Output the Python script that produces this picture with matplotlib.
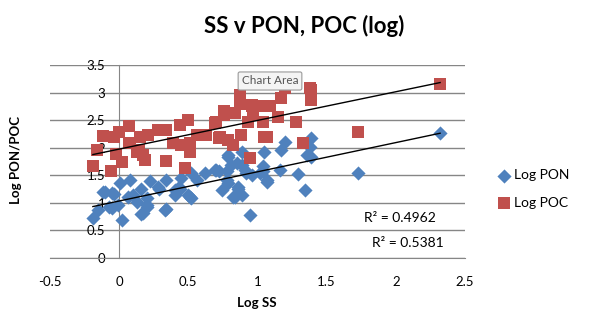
import numpy as np
import matplotlib.pyplot as plt

plt.rcParams['font.family'] = ['Lato', 'DejaVu Sans']

# log suspended solids vs log particulate organic nitrogen
pon_x = [-0.19, -0.15, -0.12, -0.05, -0.07, -0.01, 0.005, 0.02, 0.08, 0.065, 0.13, 0.16, 0.16, 0.20,
         0.22, 0.20, 0.28, 0.34, 0.34, 0.40, 0.43, 0.45, 0.50, 0.52, 0.56, 0.52, 0.62, 0.70, 0.74,
         0.78, 0.79, 0.81, 0.82, 0.86, 0.885, 0.885, 0.91, 0.945, 0.957, 1.05, 1.04, 1.07,
         2.32, 1.73, 1.39, 1.38, 1.355, 1.20, 1.17, 1.04, 1.07, 1.16, 1.29, 1.34, 1.39,
         0.79, 0.85, 0.72, 0.78, 0.69, 0.44, 0.51, 0.79, 0.86, 0.84, 0.92, 1.02, 0.885,
         -0.10, -0.04, -0.055, 0.10, 0.20, 0.17, 0.29, 0.33, 0.40]
pon_y = [0.72, 0.87, 1.20, 1.17, 0.93, 0.96, 1.36, 0.69, 1.42, 1.11, 1.02, 1.26, 0.79, 0.93,
         1.40, 1.08, 1.29, 1.42, 0.89, 1.14, 1.29, 1.45, 1.14, 1.54, 1.42, 1.08, 1.54, 1.60, 1.23,
         1.42, 1.87, 1.69, 1.11, 1.29, 1.14, 1.93, 1.60, 0.78, 1.51, 1.93, 1.57, 1.38,
         2.26, 1.54, 2.17, 2.02, 1.87, 2.11, 1.96, 1.66, 1.42, 1.60, 1.52, 1.23, 1.84,
         1.84, 1.72, 1.57, 1.57, 1.60, 1.26, 1.11, 1.36, 1.26, 1.11, 1.54, 1.54, 1.69,
         1.19, 1.16, 0.90, 1.14, 0.96, 0.81, 1.26, 0.87, 1.23]

# log suspended solids vs log particulate organic carbon
poc_x = [-0.19, -0.16, -0.12, -0.06, -0.04, 0.00, -0.02, 0.02, 0.07, 0.07, 0.15, 0.13, 0.21, 0.19,
         0.17, 0.28, 0.34, 0.34, 0.39, 0.44, 0.50, 0.475, 0.51, 0.51, 0.56, 0.63, 0.69, 0.73,
         0.76, 0.79, 0.82, 0.84, 0.87, 0.87, 0.88, 0.945, 0.93, 0.96, 0.97, 1.04, 1.05,
         2.32, 1.38, 1.39, 1.20, 1.17, 1.04, 1.15, 1.28, 1.07, 1.33, 1.73,
         0.45, 0.72, 0.70, 0.76, 0.957, 1.39, 1.09, 0.08, 0.14]
poc_y = [1.67, 1.95, 2.21, 1.57, 2.20, 2.28, 1.88, 1.74, 2.40, 2.08, 2.20, 1.93, 2.23, 1.78,
         1.87, 2.32, 2.32, 1.76, 2.08, 2.41, 2.50, 1.63, 2.08, 1.93, 2.23, 2.23, 2.44, 2.20,
         2.60, 2.14, 2.05, 2.63, 2.79, 2.96, 2.23, 1.81, 2.47, 2.78, 2.60, 2.75, 2.20,
         3.15, 3.08, 2.87, 3.08, 2.90, 2.47, 2.56, 2.47, 2.20, 2.08, 2.28,
         2.05, 2.17, 2.47, 2.66, 2.75, 3.05, 2.75, 2.08, 1.96]

r2_labels = ['R² = 0.4962', 'R² = 0.5381']

blue = '#4F81BD'
red = '#C0504D'
grid_grey = '#868686'

fig = plt.figure(figsize=(6.09, 3.36), dpi=100)
ax = fig.add_axes([50 / 609, 1 - 258 / 336, 415 / 609, 193 / 336])

ax.scatter(pon_x, pon_y, marker='D', s=52, color=blue, linewidths=0, zorder=3, label='Log PON')
ax.scatter(poc_x, poc_y, marker='s', s=72, color=red, linewidths=0, zorder=3, label='Log POC')

# linear trendlines over the data range
for xs, ys in [(pon_x, pon_y), (poc_x, poc_y)]:
    xs = np.array(xs)
    k, b = np.polyfit(xs, ys, 1)
    xl = np.array([xs.min(), xs.max()])
    ax.plot(xl, k * xl + b, color='black', lw=1.0, zorder=4)

ax.set_xlim(-0.5, 2.5)
ax.set_ylim(0, 3.5)
ax.set_xticks(np.arange(-0.5, 2.51, 0.5))
ax.set_yticks(np.arange(0, 3.51, 0.5))
ax.set_xticklabels(['-0.5', '0', '0.5', '1', '1.5', '2', '2.5'])
ax.set_yticklabels(['0', '0.5', '1', '1.5', '2', '2.5', '3', '3.5'])
ax.yaxis.grid(True, color=grid_grey, lw=1.0)
ax.set_axisbelow(True)

for s in ['top', 'right']:
    ax.spines[s].set_visible(False)
ax.spines['left'].set_position(('data', 0))
ax.spines['left'].set_color(grid_grey)
ax.spines['bottom'].set_color(grid_grey)
ax.tick_params(axis='both', length=0, labelsize=9.5, colors='black')
ax.tick_params(axis='y', pad=10)
ax.tick_params(axis='x', pad=13)

fig.text(0.5, 1 - 26 / 336, 'SS v PON, POC (log)', ha='center', va='center',
         fontsize=16, fontweight='bold')
fig.text(257 / 609, 1 - 303 / 336, 'Log SS', ha='center', va='center',
         fontsize=9.5, fontweight='bold')
fig.text(16 / 609, 1 - 160 / 336, 'Log PON/POC', ha='center', va='center',
         rotation=90, fontsize=9.5, fontweight='bold')

fig.text(400 / 609, 1 - 218 / 336, r2_labels[0], ha='center', va='center', fontsize=10)
fig.text(408 / 609, 1 - 243 / 336, r2_labels[1], ha='center', va='center', fontsize=10)

fig.legend(loc='center left', bbox_to_anchor=(490 / 609, 1 - 189 / 336), frameon=False,
           fontsize=10, handletextpad=0.1, labelspacing=1.1, borderaxespad=0,
           handlelength=1.2, scatterpoints=1)

fig.text(270 / 609, 1 - 81 / 336, 'Chart Area', ha='center', va='center', fontsize=8.5,
         color='#555555', zorder=10,
         bbox=dict(boxstyle='round,pad=0.3,rounding_size=0.15', fc='#f4f4f4', ec='#9a9a9a', lw=0.8))

fig.savefig('out.png', dpi=100)
